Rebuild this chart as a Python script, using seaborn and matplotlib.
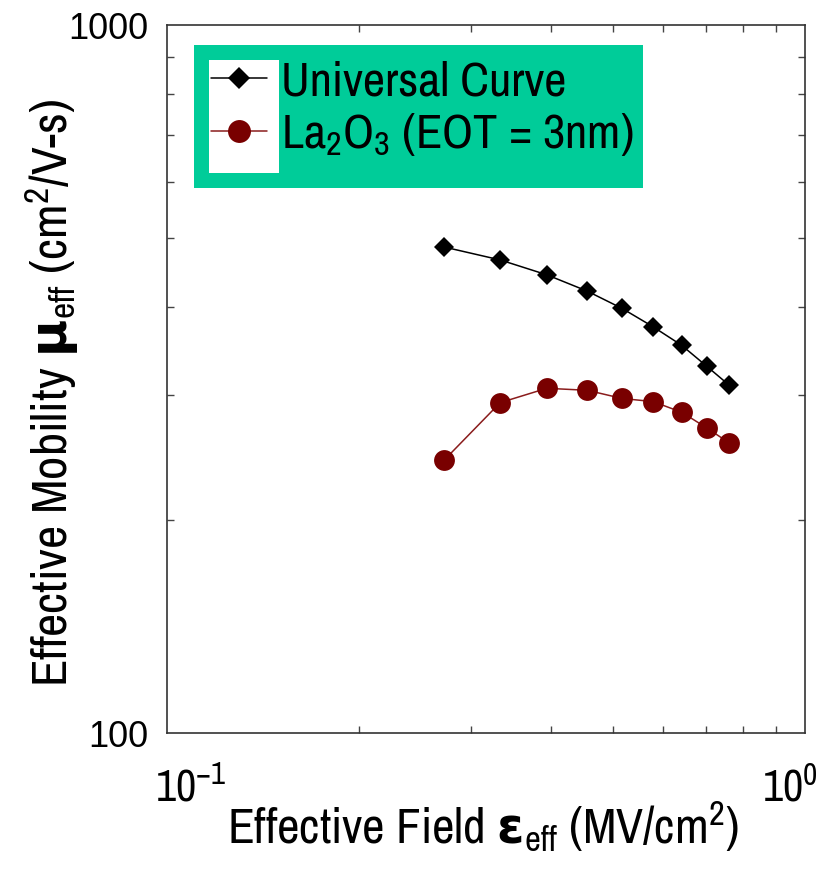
import matplotlib
matplotlib.use("Agg")
import matplotlib.pyplot as plt
from matplotlib.patches import Rectangle
from matplotlib.ticker import FixedLocator, NullFormatter, LogLocator
from matplotlib.transforms import ScaledTranslation
import numpy as np
import pandas as pd
import seaborn as sns

# Effective field (MV/cm^2) and effective mobility (cm^2/V-s)
field = [0.272, 0.333, 0.394, 0.456, 0.517, 0.578, 0.641, 0.701, 0.761]
mu_universal = [486, 466, 444, 421, 398, 375, 353, 330, 310]
mu_la2o3 = [243, 293, 307, 305, 297, 294, 284, 270, 257]

series_names = ["Universal Curve", r"La$_2$O$_3$ (EOT = 3nm)"]
x_ticks = [0.1, 1.0]
x_tick_labels = [r"10$^{\mathrm{-1}}$", r"10$^{\mathrm{0}}$"]
y_ticks = [100, 1000]
y_tick_labels = ["100", "1000"]

sns.set_theme(style="white")
NARROW = "Archivo Narrow"
plt.rcParams["font.family"] = [NARROW, "DejaVu Sans"]
plt.rcParams["mathtext.fontset"] = "custom"
plt.rcParams["mathtext.rm"] = NARROW
plt.rcParams["mathtext.it"] = NARROW + ":italic"
plt.rcParams["mathtext.bf"] = "DejaVu Sans:bold"
for key in ["text.color", "axes.labelcolor", "xtick.color", "ytick.color"]:
    plt.rcParams[key] = "black"

df = pd.DataFrame({
    "field": field * 2,
    "mu": mu_universal + mu_la2o3,
    "series": [series_names[0]] * len(field) + [series_names[1]] * len(field),
})

fig = plt.figure(figsize=(8.33, 8.74), dpi=100)
ax = fig.add_axes([0.2001, 0.161, 0.7663, 0.8103])

sns.lineplot(data=df[df.series == series_names[0]], x="field", y="mu",
             color="black", marker="D", markersize=10.5, markeredgewidth=0,
             linewidth=1.1, ax=ax, label=series_names[0], zorder=3)
sns.lineplot(data=df[df.series == series_names[1]], x="field", y="mu",
             color="#8a1c1c", marker="o", markersize=15, markerfacecolor="#790000",
             markeredgecolor="#790000", markeredgewidth=0,
             linewidth=1.1, ax=ax, label=series_names[1], zorder=3)

ax.set_xscale("log")
ax.set_yscale("log")
ax.set_xlim(0.1, 1.0)
ax.set_ylim(100, 1000)

ax.xaxis.set_major_locator(FixedLocator(x_ticks))
ax.set_xticklabels(x_tick_labels)
ax.yaxis.set_major_locator(FixedLocator(y_ticks))
ax.set_yticklabels(y_tick_labels, fontfamily="Liberation Sans")
ax.xaxis.set_minor_locator(LogLocator(base=10, subs=np.arange(2, 10)))
ax.yaxis.set_minor_locator(LogLocator(base=10, subs=np.arange(2, 10)))
ax.xaxis.set_minor_formatter(NullFormatter())
ax.yaxis.set_minor_formatter(NullFormatter())

ax.tick_params(which="both", direction="in", top=True, right=True,
               bottom=True, left=True, color="#444444", width=1)
ax.tick_params(which="minor", length=5)
ax.tick_params(which="major", length=0)
ax.tick_params(axis="x", which="major", labelsize=32, pad=24)
ax.tick_params(axis="y", which="major", labelsize=26, pad=13.5)

# nudge the decade labels inward from the plot corners
xt = ax.get_xticklabels()
xt[0].set_transform(xt[0].get_transform() + ScaledTranslation(0.24, 0, fig.dpi_scale_trans))
xt[1].set_transform(xt[1].get_transform() + ScaledTranslation(-0.15, 0, fig.dpi_scale_trans))

for sp in ax.spines.values():
    sp.set_color("#333333")
    sp.set_linewidth(1.2)

ax.set_xlabel(r"Effective Field $\mathbf{\epsilon}_{\mathrm{eff}}$ (MV/cm$^{2}$)",
              fontsize=35.5)
ax.set_ylabel(r"Effective Mobility $\mathbf{\mu}_{\mathrm{eff}}$ (cm$^{2}$/V-s)",
              fontsize=36.5)
ax.xaxis.set_label_coords(0.4955, -0.094)
ax.yaxis.set_label_coords(-0.1335, 0.481)

# legend panel: green block with a white strip behind the samples
ax.add_patch(Rectangle((0.0428, 0.7698), 0.7037, 0.2020, transform=ax.transAxes,
                       facecolor="#00cc99", edgecolor="none", zorder=4))
ax.add_patch(Rectangle((0.0663, 0.7911), 0.1096, 0.1595, transform=ax.transAxes,
                       facecolor="white", edgecolor="none", zorder=4.5))
leg = ax.legend(loc="upper left", bbox_to_anchor=(0.069, 0.950), frameon=False,
                fontsize=35, handlelength=1.15, handletextpad=0.3,
                labelspacing=0.15, borderpad=0, borderaxespad=0, markerscale=1.1)
leg.set_zorder(5)

fig.savefig("out.png", dpi=100)
